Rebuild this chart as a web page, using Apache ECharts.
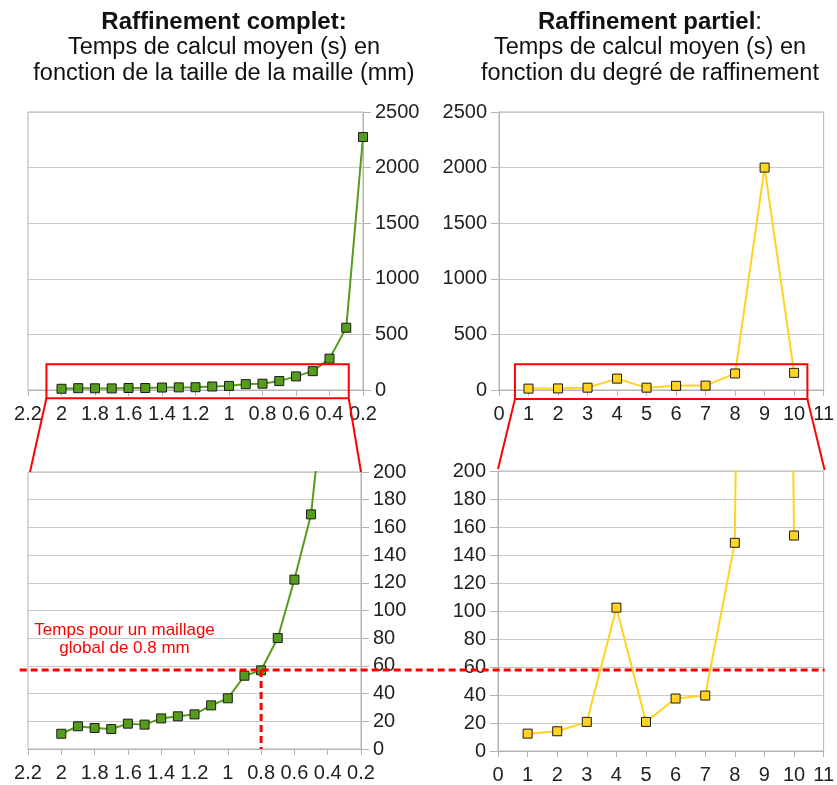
<!DOCTYPE html>
<html><head><meta charset="utf-8">
<script src="https://cdn.jsdelivr.net/npm/echarts/dist/echarts.min.js"></script>
<style>html,body{margin:0;padding:0;background:#fff}#c{width:837px;height:785px}</style>
</head><body><div id="c"></div>
<script>
// ---- data ----
const meshSizes = [2.0,1.9,1.8,1.7,1.6,1.5,1.4,1.3,1.2,1.1,1.0,0.9,0.8,0.7,0.6,0.5,0.4,0.3,0.2];
const fullTimes = [11,16.4,15.2,14.4,18.3,17.6,22.1,23.6,25,31.5,36.6,52.9,56.8,80.1,122.3,169.4,282,560,2275];
const refineLevels = [1,2,3,4,5,6,7,8,9,10];
const partialTimes = [12.4,14.1,20.8,102.4,20.8,37.5,39.6,148.7,2000,153.9];
const refMesh = 0.8;
const refTime = 57;
const titleLeft = ['Raffinement complet:', 'Temps de calcul moyen (s) en', 'fonction de la taille de la maille (mm)'];
const titleRight = ['Raffinement partiel', 'Temps de calcul moyen (s) en', 'fonction du degré de raffinement'];
const noteLines = ['Temps pour un maillage', 'global de 0.8 mm'];

const FONT = '"Liberation Sans", Arial, sans-serif';
const AX = '#b3b3b3', GRIDC = '#c8c8c8', LBL = '#222';
const GREEN = '#579d1c', YELLOW = '#ffd320', RED = '#ff0000';

function xAx(gi, min, max, interval, inverse) {
  return {type:'value', gridIndex:gi, min, max, interval, inverse,
    axisLine:{show:true, onZero:false, lineStyle:{color:AX, width:1}},
    axisTick:{show:true, length:6, lineStyle:{color:AX}},
    splitLine:{show:false},
    axisLabel:{margin:14, fontSize:20, color:LBL, fontFamily:FONT, hideOverlap:false,
      formatter: v => String(+(+v).toFixed(1))}};
}
function yAx(gi, max, interval, pos) {
  return {type:'value', gridIndex:gi, min:0, max, interval, position:pos,
    axisLine:{show:true, lineStyle:{color:AX, width:1}},
    axisTick:{show:true, length:8, lineStyle:{color:AX}},
    splitLine:{show:true, lineStyle:{color:GRIDC, width:1}},
    axisLabel:{margin:12, fontSize:20, color:LBL, fontFamily:FONT, formatter: v => String(v)}};
}
function ser(gi, xs, ys, color) {
  return {type:'line', xAxisIndex:gi, yAxisIndex:gi, data: xs.map((x,i)=>[x, ys[i]]),
    symbol:'rect', symbolSize:9, showAllSymbol:true, clip:true, animation:false,
    lineStyle:{color, width:2}, itemStyle:{color, borderColor:'#1a1a1a', borderWidth:1}};
}

const chart = echarts.init(document.getElementById('c'), null, {renderer:'canvas'});
const gridBase = {show:true, borderColor:AX, borderWidth:1, backgroundColor:'transparent'};
chart.setOption({
  animation:false,
  grid:[
    Object.assign({left:28, top:112, width:335, height:278}, gridBase),
    Object.assign({left:28, top:472, width:333, height:277}, gridBase),
    Object.assign({left:499, top:112, width:327, height:278}, gridBase),
    Object.assign({left:498, top:471, width:328, height:280}, gridBase)
  ],
  xAxis:[ xAx(0,0.2,2.2,0.2,true), xAx(1,0.2,2.2,0.2,true), xAx(2,0,11,1,false), xAx(3,0,11,1,false) ],
  yAxis:[ yAx(0,2500,500,'right'), yAx(1,200,20,'right'), yAx(2,2500,500,'left'), yAx(3,200,20,'left') ],
  series:[
    ser(0, meshSizes, fullTimes, GREEN),
    ser(1, meshSizes, fullTimes, GREEN),
    ser(2, refineLevels, partialTimes, YELLOW),
    ser(3, refineLevels, partialTimes, YELLOW)
  ]
});

const p = (gi, x, y) => chart.convertToPixel({gridIndex:gi}, [x, y]);
function rectFrom(a, b) {
  return {x:Math.min(a[0],b[0]), y:Math.min(a[1],b[1]), width:Math.abs(a[0]-b[0]), height:Math.abs(a[1]-b[1])};
}
const g = [];
// zoom rectangles and connectors
const lA = p(0, 2.09, 231), lB = p(0, 0.285, -75);
const rA = p(2, 0.54, 231), rB = p(2, 10.45, -82);
const redStroke = {stroke:RED, lineWidth:2, fill:null};
g.push({type:'rect', shape:rectFrom(lA,lB), style:redStroke, z:100});
g.push({type:'rect', shape:rectFrom(rA,rB), style:redStroke, z:100});
const lTL = p(1, 2.2, 200), lTR = p(1, 0.2, 200), rTL = p(3, 0, 200), rTR = p(3, 11, 200);
const lr = rectFrom(lA,lB), rr = rectFrom(rA,rB);
g.push({type:'line', shape:{x1:lr.x, y1:lr.y+lr.height, x2:lTL[0]+2, y2:lTL[1]}, style:{stroke:RED, lineWidth:2}, z:100});
g.push({type:'line', shape:{x1:lr.x+lr.width, y1:lr.y+lr.height, x2:lTR[0], y2:lTR[1]}, style:{stroke:RED, lineWidth:2}, z:100});
g.push({type:'line', shape:{x1:rr.x, y1:rr.y+rr.height, x2:rTL[0], y2:rTL[1]-2}, style:{stroke:RED, lineWidth:2}, z:100});
g.push({type:'line', shape:{x1:rr.x+rr.width, y1:rr.y+rr.height, x2:rTR[0]+1, y2:rTR[1]-1}, style:{stroke:RED, lineWidth:2}, z:100});
// reference dashed lines
const hL = p(1, 2.25, refTime), hR = p(3, 11, refTime);
g.push({type:'line', shape:{x1:hL[0], y1:hL[1], x2:hR[0]+1, y2:hL[1]}, style:{stroke:RED, lineWidth:3, lineDash:[7,4]}, z:100});
const vT = p(1, refMesh, refTime), vB = p(1, refMesh, 0);
g.push({type:'line', shape:{x1:vT[0], y1:vT[1], x2:vB[0], y2:vB[1]}, style:{stroke:RED, lineWidth:3, lineDash:[7,4]}, z:100});
// note
const nP = p(1, 1.62, 86);
noteLines.forEach((t,i)=>g.push({type:'text', x:nP[0], y:nP[1]+i*18.5, z:100,
  style:{text:t, fill:RED, font:'17px "Liberation Sans", Arial, sans-serif', align:'center', verticalAlign:'middle'}}));
// titles
const tY = [22, 48, 74];
titleLeft.forEach((t,i)=>g.push({type:'text', x:224, y:tY[i], z:100,
  style:{text:t, fill:'#111', font:(i===0?'bold 24px ':'23.5px ')+'"Liberation Sans", Arial, sans-serif', align:'center', verticalAlign:'middle'}}));
titleRight.forEach((t,i)=>g.push({type:'text', x:650, y:tY[i], z:100,
  style: i===0 ? {text:'{b|'+t+'}{n|:}', rich:{b:{fontWeight:'bold', fontSize:24, fontFamily:FONT, fill:'#111'}, n:{fontSize:24, fontFamily:FONT, fill:'#111'}}, align:'center', verticalAlign:'middle'}
   : {text:t, fill:'#111', font:'23.5px "Liberation Sans", Arial, sans-serif', align:'center', verticalAlign:'middle'}}));
chart.setOption({graphic:{elements:g}});
</script></body></html>
